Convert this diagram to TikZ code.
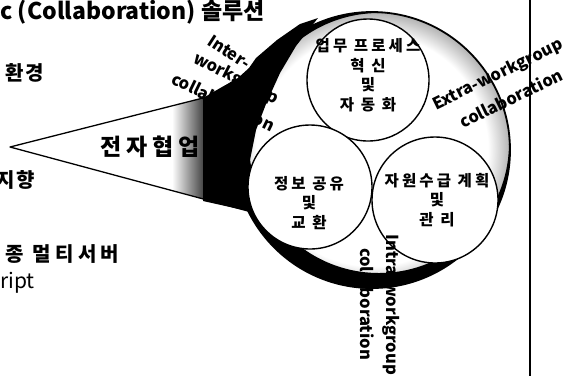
\documentclass[tikz,border=0pt]{standalone}
\usepackage{fontspec}
\setmainfont{Noto Sans CJK KR}
\pgfdeclareradialshading{rimshade}{\pgfpoint{0bp}{0bp}}{color(0bp)=(white); color(21bp)=(white); color(25bp)=(black!30); color(50bp)=(black!30)}
\begin{document}
\begin{tikzpicture}[x=1pt,y=-1pt, line join=round,
  rim/.style={line width=1.8pt},
  incirc/.style={circle, draw, fill=white, line width=1.4pt, inner sep=0pt},
  ctext/.style={font=\bfseries\fontsize{15.5}{19.5}\selectfont\addfontfeature{LetterSpace=20}, align=center, inner sep=0pt},
  rottext/.style={font=\bfseries\fontsize{16.5}{18}\selectfont, inner sep=0pt},
  side/.style={font=\bfseries\fontsize{20}{24}\selectfont\addfontfeature{LetterSpace=12}, anchor=base west, inner sep=0pt}]
\useasboundingbox (0,0) rectangle (564,376);
\coordinate (apex) at (10,147);
\coordinate (up) at (203,98);
\coordinate (lo) at (248,211);
\coordinate (C) at (372,150);
\coordinate (W) at (379,143);
% grey part of the cone
\begin{scope}
  \clip (apex) -- (up) -- (250,84) -- (lo) -- cycle;
  \shade[left color=white, right color=black!75] (172,80) rectangle (204,220);
\end{scope}
% big circle: grey rim and black crescent
\shade[shading=rimshade] (C) circle (138);
\begin{scope}
  \clip (C) circle (138);
  \fill[black, even odd rule] (C) circle (138) (W) circle (130);
\end{scope}
% black funnel end
\fill[black] (up) -- (222,87) -- (238,78) -- (249,68) -- (256,58) -- (277,40) -- (300,24) -- (318,18)
  -- (296,46) -- (280,73) -- (266,104) -- (256,130) -- (250,160) -- (lo) -- (203,201) -- cycle;
% cone edges
\draw[line width=1.3pt] (up) -- (apex) -- (lo);
% outline of the big circle
\draw[rim] (C) circle (138);
% three inner circles
\node[incirc, minimum size=122pt] (proc) at (368,80) {};
\node[incirc, minimum size=124pt] (info) at (310,187) {};
\node[incirc, minimum size=126pt] (res) at (435,200) {};
\node[ctext] (proctxt) at (368,75) {업무 프로세스\\혁 신\\및\\자 동 화};
\node[ctext] (infotxt) at (309,203) {정보 공유\\및\\교 환};
\node[ctext] (restxt) at (437,200) {자원수급 계획\\및\\관 리};
% rotated labels
\node[rottext, rotate=-33, anchor=base west] (inter1) at (206,44) {Inter-};
\node[rottext, rotate=-27, anchor=base west] (inter2) at (192,62) {workgroup};
\node[rottext, rotate=-26, anchor=base west] (inter3) at (170,83) {collaboration};
\node[rottext, rotate=26] (extra1) at (498,75) {Extra-workgroup};
\node[rottext, rotate=26] (extra2) at (511,98) {collaboration};
\node[rottext, rotate=-90] (intra1) at (391,305) {Intra-workgroup};
\node[rottext, rotate=-90] (intra2) at (367,304) {collaboration};
% frame line
\draw[line width=1.8pt] (530,0) -- (530,376);
% texts on the left
\node[font=\bfseries\fontsize{23}{26}\selectfont, anchor=base west, inner sep=0pt] (title) at (0,19) {c (Collaboration) 솔루션};
\node[side] (env) at (5,80) {환경};
\node[side] (aim) at (-4,187) {지향};
\node[side, font=\bfseries\fontsize{23}{26}\selectfont\addfontfeature{LetterSpace=22}] (ecol) at (100,155) {전자협업};
\node[side, font=\bfseries\fontsize{20}{22}\selectfont\addfontfeature{LetterSpace=22}] (multi) at (5,261) {종 멀티서버};
\node[font=\fontsize{21}{24}\selectfont, anchor=base west, inner sep=0pt] (ript) at (0,288) {ript};
\end{tikzpicture}
\end{document}
